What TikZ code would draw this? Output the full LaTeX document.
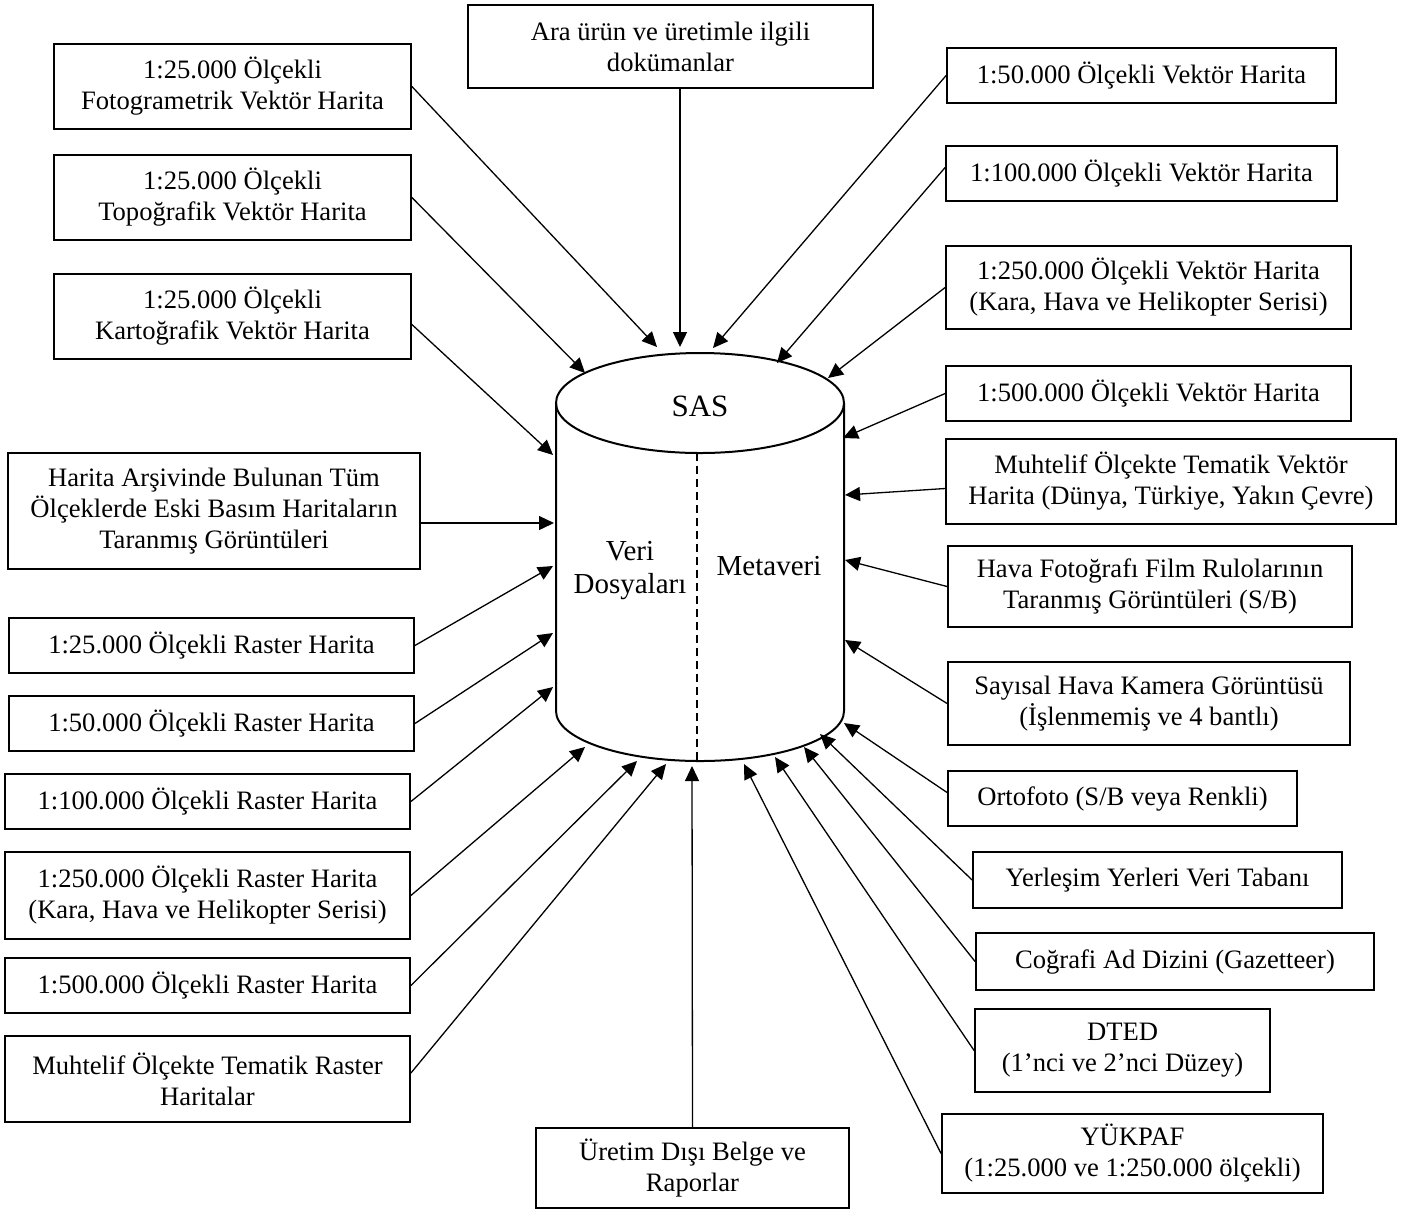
\documentclass[tikz,border=0pt]{standalone}
\usepackage{fontspec}
\setmainfont{Liberation Serif}
\usetikzlibrary{arrows.meta}

\newcommand\kutufont{\fontsize{13.3}{15.5}\selectfont}
\newcommand\silfont{\fontsize{14.5}{16.5}\selectfont}

\begin{document}
\begin{tikzpicture}[x=0.5pt, y=-0.5pt,
  kutu/.style 2 args={draw, line width=0.9pt, align=center, inner sep=0pt,
    minimum width=#1*0.5pt, minimum height=#2*0.5pt, font=\kutufont},
  ok/.style={-{Triangle[length=7.5pt, width=7pt]}, line width=0.65pt},
  govde/.style={line width=1pt}]
  \useasboundingbox (0,0) rectangle (1406,1211);

  % SAS silindiri
  \draw[govde] (700,403) ellipse [x radius=144, y radius=50];
  \draw[govde] (556,403) -- (556,711) arc [start angle=180, end angle=0, x radius=144, y radius=50] -- (844,403);
  \draw[dash pattern=on 4pt off 2.5pt, line width=0.7pt] (697,453) -- (697,761);
  \node (sas) at (700,406) [font=\fontsize{15.5}{17}\selectfont] {SAS};
  \node (veri) at (630,571) [font=\silfont, align=center] {Veri\\Dosyaları};
  \node (meta) at (769,566) [font=\silfont] {Metaveri};

  % Ok uçları
  \coordinate (ara-u) at (680,347);
  \coordinate (foto-u) at (657,347);
  \coordinate (topo-u) at (585,373);
  \coordinate (karto-u) at (553,455);
  \coordinate (arsiv-u) at (554,523);
  \coordinate (r25-u) at (553,566);
  \coordinate (r50-u) at (553,633);
  \coordinate (r100-u) at (553,687);
  \coordinate (r250-u) at (585,747);
  \coordinate (r500-u) at (637,761);
  \coordinate (rtem-u) at (666,764);
  \coordinate (uretim-u) at (692,766);
  \coordinate (v50-u) at (713,348);
  \coordinate (v100-u) at (777,363);
  \coordinate (v250-u) at (828,378);
  \coordinate (v500-u) at (843,438);
  \coordinate (vtem-u) at (845,495);
  \coordinate (film-u) at (845,560);
  \coordinate (kamera-u) at (845,640);
  \coordinate (orto-u) at (844,723);
  \coordinate (yer-u) at (820,734);
  \coordinate (ad-u) at (804,747);
  \coordinate (dted-u) at (775,757);
  \coordinate (yuk-u) at (744,764);

  % Üst ve alt kutular
  \node (ara) at (670.5,46.5) [kutu={405}{83}] {Ara ürün ve üretimle ilgili\\dokümanlar};
  \node (uretim) at (692.5,1168) [kutu={313}{80}] {Üretim Dışı Belge ve\\Raporlar};

  % Sol kutular
  \node (foto) at (232.5,86.5) [kutu={357}{85}] {1:25.000 Ölçekli\\Fotogrametrik Vektör Harita};
  \node (topo) at (232.5,197.5) [kutu={357}{85}] {1:25.000 Ölçekli\\Topoğrafik Vektör Harita};
  \node (karto) at (232.5,316.5) [kutu={357}{85}] {1:25.000 Ölçekli\\Kartoğrafik Vektör Harita};
  \node (arsiv) at (214,511) [kutu={412}{116}] {Harita Arşivinde Bulunan Tüm\\Ölçeklerde Eski Basım Haritaların\\Taranmış Görüntüleri};
  \node (r25) at (211.5,645.5) [kutu={405}{55}] {1:25.000 Ölçekli Raster Harita};
  \node (r50) at (211.5,723.5) [kutu={405}{55}] {1:50.000 Ölçekli Raster Harita};
  \node (r100) at (207.5,801.5) [kutu={405}{55}] {1:100.000 Ölçekli Raster Harita};
  \node (r250) at (207.5,895.5) [kutu={405}{87}] {1:250.000 Ölçekli Raster Harita\\(Kara, Hava ve Helikopter Serisi)};
  \node (r500) at (207.5,985.5) [kutu={405}{55}] {1:500.000 Ölçekli Raster Harita};
  \node (rtem) at (207.5,1079) [kutu={405}{86}] {Muhtelif Ölçekte Tematik Raster\\Haritalar};

  % Sağ kutular
  \node (v50) at (1141.5,75.5) [kutu={389}{55}] {1:50.000 Ölçekli Vektör Harita};
  \node (v100) at (1141.5,173.5) [kutu={391}{55}] {1:100.000 Ölçekli Vektör Harita};
  \node (v250) at (1148.5,287.5) [kutu={405}{83}] {1:250.000 Ölçekli Vektör Harita\\(Kara, Hava ve Helikopter Serisi)};
  \node (v500) at (1148.5,393.5) [kutu={405}{55}] {1:500.000 Ölçekli Vektör Harita};
  \node (vtem) at (1171,481.5) [kutu={450}{85}] {Muhtelif Ölçekte Tematik Vektör\\Harita (Dünya, Türkiye, Yakın Çevre)};
  \node (film) at (1150,586.5) [kutu={404}{81}] {Hava Fotoğrafı Film Rulolarının\\Taranmış Görüntüleri (S/B)};
  \node (kamera) at (1149,703.5) [kutu={402}{83}] {Sayısal Hava Kamera Görüntüsü\\(İşlenmemiş ve 4 bantlı)};
  \node (orto) at (1122.5,798.5) [kutu={349}{55}] {Ortofoto (S/B veya Renkli)};
  \node (yer) at (1157.5,880) [kutu={369}{56}] {Yerleşim Yerleri Veri Tabanı};
  \node (ad) at (1175,961.5) [kutu={398}{57}] {Coğrafi Ad Dizini (Gazetteer)};
  \node (dted) at (1122.5,1050.5) [kutu={295}{83}] {DTED\\(1’nci ve 2’nci Düzey)};
  \node (yuk) at (1132.5,1153.5) [kutu={381}{79}] {YÜKPAF\\(1:25.000 ve 1:250.000 ölçekli)};

  % Oklar
  \draw[ok] (ara.south -| ara-u) -- (ara-u);
  \draw[ok] (uretim.north) -- (uretim-u);
  \draw[ok] (foto.east) -- (foto-u);
  \draw[ok] (topo.east) -- (topo-u);
  \draw[ok] ([yshift=-4pt]karto.east) -- (karto-u);
  \draw[ok] (arsiv.east |- arsiv-u) -- (arsiv-u);
  \draw[ok] (r25.east) -- (r25-u);
  \draw[ok] (r50.east) -- (r50-u);
  \draw[ok] (r100.east) -- (r100-u);
  \draw[ok] (r250.east) -- (r250-u);
  \draw[ok] (r500.east) -- (r500-u);
  \draw[ok] ([yshift=3pt]rtem.east) -- (rtem-u);
  \draw[ok] (v50.west) -- (v50-u);
  \draw[ok] ([yshift=3pt]v100.west) -- (v100-u);
  \draw[ok] (v250.west) -- (v250-u);
  \draw[ok] (v500.west) -- (v500-u);
  \draw[ok] ([yshift=-3.5pt]vtem.west) -- (vtem-u);
  \draw[ok] (film.west) -- (film-u);
  \draw[ok] (kamera.west) -- (kamera-u);
  \draw[ok] ([yshift=3pt]orto.west) -- (orto-u);
  \draw[ok] (yer.west) -- (yer-u);
  \draw[ok] (ad.west) -- (ad-u);
  \draw[ok] (dted.west) -- (dted-u);
  \draw[ok] (yuk.west) -- (yuk-u);
\end{tikzpicture}
\end{document}
